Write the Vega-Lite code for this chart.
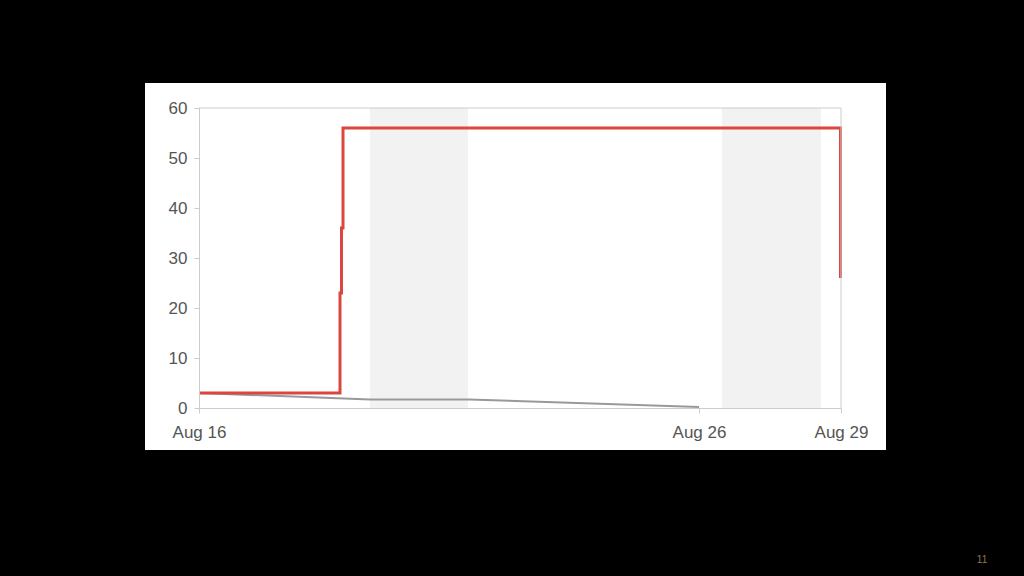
{
  "$schema": "https://vega.github.io/schema/vega-lite/v6.json",
  "autosize": {"type": "none"},
  "width": 642,
  "height": 300,
  "padding": {"left": 199, "top": 108, "right": 183, "bottom": 168},
  "background": "black",
  "config": {
    "view": {"stroke": null},
    "font": "Liberation Sans"
  },
  "datasets": {
    "red": [
      {"day": 0, "value": 3},
      {"day": 2.82, "value": 23},
      {"day": 2.85, "value": 36},
      {"day": 2.88, "value": 56},
      {"day": 12.83, "value": 26}
    ],
    "gray": [
      {"day": 0, "value": 3},
      {"day": 3.42, "value": 1.7},
      {"day": 5.4, "value": 1.7},
      {"day": 10, "value": 0.2}
    ],
    "weekends": [
      {"start": 3.42, "end": 5.38},
      {"start": 10.46, "end": 12.44}
    ]
  },
  "layer": [
    {
      "data": {"values": [{}]},
      "mark": {"type": "rect", "fill": "white", "clip": false},
      "encoding": {
        "x": {"datum": -1.08, "type": "quantitative", "scale": {"domain": [0, 12.84], "nice": false, "zero": false}},
        "x2": {"datum": 13.74},
        "y": {"datum": 65, "type": "quantitative", "scale": {"domain": [0, 60], "nice": false}},
        "y2": {"datum": -8.4}
      }
    },
    {
      "data": {"name": "weekends"},
      "mark": {"type": "rect", "fill": "#f2f2f2"},
      "encoding": {
        "x": {"field": "start", "type": "quantitative"},
        "x2": {"field": "end"},
        "y": {"datum": 0, "type": "quantitative"},
        "y2": {"datum": 60}
      }
    },
    {
      "data": {"name": "gray"},
      "mark": {"type": "line", "color": "#999999", "strokeWidth": 2},
      "encoding": {
        "x": {"field": "day", "type": "quantitative"},
        "y": {"field": "value", "type": "quantitative"}
      }
    },
    {
      "data": {"name": "red"},
      "mark": {"type": "line", "color": "#d9473f", "strokeWidth": 3, "interpolate": "step-after"},
      "encoding": {
        "x": {
          "field": "day",
          "type": "quantitative",
          "axis": {
            "title": null,
            "zindex": 1,
            "values": [0, 10, 12.84],
            "labelExpr": "datum.value == 0 ? 'Aug 16' : datum.value == 10 ? 'Aug 26' : 'Aug 29'",
            "domainColor": "#cccccc",
            "tickColor": "#cccccc",
            "tickSize": 5,
            "labelFontSize": 17,
            "labelColor": "#555555",
            "labelPadding": 11,
            "labelFlush": false,
            "labelBound": false,
            "labelOverlap": false,
            "grid": false
          }
        },
        "y": {
          "field": "value",
          "type": "quantitative",
          "axis": {
            "title": null,
            "zindex": 1,
            "values": [0, 10, 20, 30, 40, 50, 60],
            "domainColor": "#cccccc",
            "tickColor": "#cccccc",
            "tickSize": 5,
            "labelFontSize": 17,
            "labelColor": "#555555",
            "labelPadding": 7,
            "grid": false
          }
        }
      }
    },
    {
      "data": {"values": [{}]},
      "mark": {"type": "rule", "color": "#cccccc", "strokeWidth": 1},
      "encoding": {
        "x": {"datum": 0, "type": "quantitative"},
        "x2": {"datum": 12.84},
        "y": {"datum": 60, "type": "quantitative"}
      }
    },
    {
      "data": {"values": [{}]},
      "mark": {"type": "rule", "color": "#cccccc", "strokeWidth": 1},
      "encoding": {
        "x": {"datum": 12.84, "type": "quantitative"},
        "y": {"datum": 0, "type": "quantitative"},
        "y2": {"datum": 60}
      }
    },
    {
      "data": {"values": [{"label": "11"}]},
      "mark": {"type": "text", "color": "#8a7a4a", "fontSize": 10, "clip": false},
      "encoding": {
        "x": {"datum": 15.66, "type": "quantitative"},
        "y": {"datum": -30.4, "type": "quantitative"},
        "text": {"field": "label"}
      }
    }
  ]
}
